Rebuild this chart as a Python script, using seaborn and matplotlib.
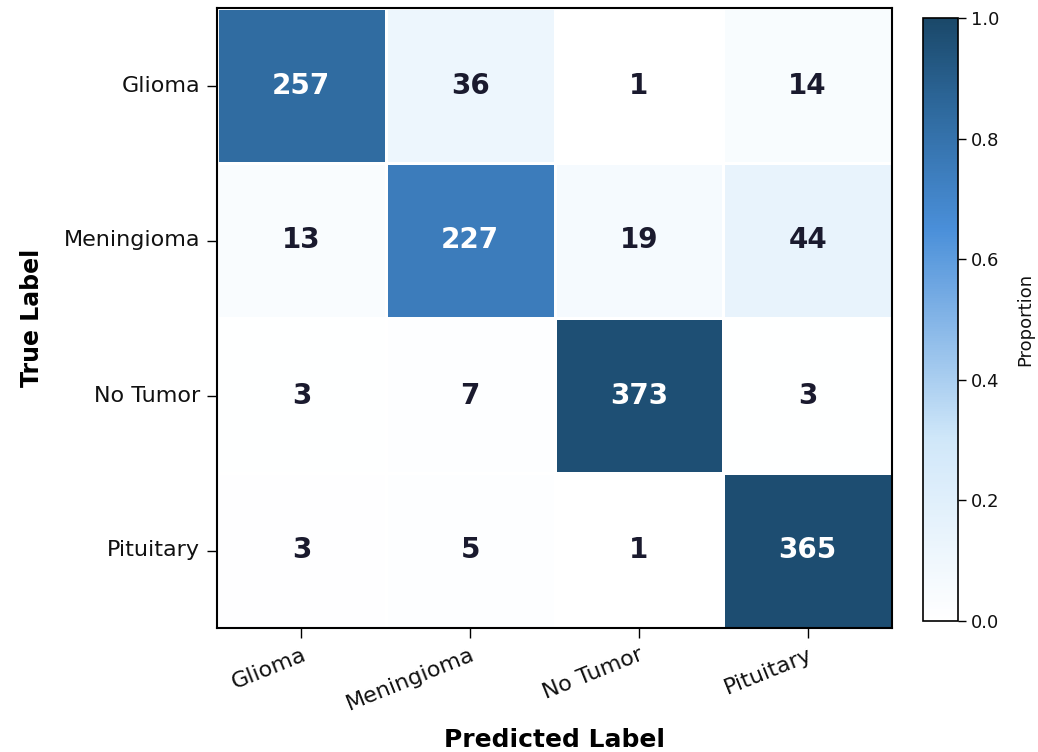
import numpy as np
import pandas as pd
import matplotlib
matplotlib.use('Agg')
import matplotlib.pyplot as plt
import seaborn as sns
from matplotlib.colors import LinearSegmentedColormap

#%% data
classes = ['Glioma', 'Meningioma', 'No Tumor', 'Pituitary']
glioma_row = [257, 36, 1, 14]
meningioma_row = [13, 227, 19, 44]
notumor_row = [3, 7, 373, 3]
pituitary_row = [3, 5, 1, 365]

cm = np.array([glioma_row, meningioma_row, notumor_row, pituitary_row])
cm_norm = cm / cm.sum(axis=1, keepdims=True)
df = pd.DataFrame(cm_norm, index=classes, columns=classes)

#%% plot
sns.set_style('white')
cmap = LinearSegmentedColormap.from_list(
    'blues_custom', [(0.0, '#ffffff'), (0.3, '#d0e7f9'), (0.65, '#4a8fd9'),
                     (0.85, '#2e699d'), (1.0, '#1a4869')])

fig = plt.figure(figsize=(10.38, 7.52), dpi=100)
ax = fig.add_axes([217/1038, 124/752, 675/1038, 620/752])
cax = fig.add_axes([923/1038, 131/752, 35/1038, 603/752])

sns.heatmap(df, cmap=cmap, vmin=0, vmax=1, annot=False, linewidths=2,
            linecolor='white', ax=ax, cbar_ax=cax)

for i in range(len(classes)):
    for j in range(len(classes)):
        color = 'white' if cm_norm[i, j] > 0.6 else '#1a1a2e'
        ax.text(j + 0.5, i + 0.5, str(cm[i, j]), ha='center', va='center',
                fontsize=20, fontweight='bold', color=color)

for s in ax.spines.values():
    s.set_visible(True)
    s.set_color('black')
    s.set_linewidth(1.5)

ax.set_xticklabels(classes, rotation=22, ha='right', fontsize=16,
                   rotation_mode='anchor', color='#111111')
ax.set_yticklabels(classes, rotation=0, fontsize=16, color='#111111')
ax.tick_params(axis='both', length=7, width=1, left=True, bottom=True,
               color='black', pad=5)
ax.set_xlabel('Predicted Label', fontsize=18, fontweight='bold', labelpad=10,
              color='black')
ax.set_ylabel('True Label', fontsize=17, fontweight='bold', labelpad=14,
              color='black')

cbar = ax.collections[0].colorbar
cbar.outline.set_visible(True)
cbar.outline.set_edgecolor('black')
cbar.outline.set_linewidth(1.2)
cbar.ax.tick_params(labelsize=13, length=6, width=1, color='black',
                    labelcolor='#111111')
cbar.set_label('Proportion', fontsize=13, color='#111111', labelpad=12)

plt.savefig('out.png', dpi=100)
